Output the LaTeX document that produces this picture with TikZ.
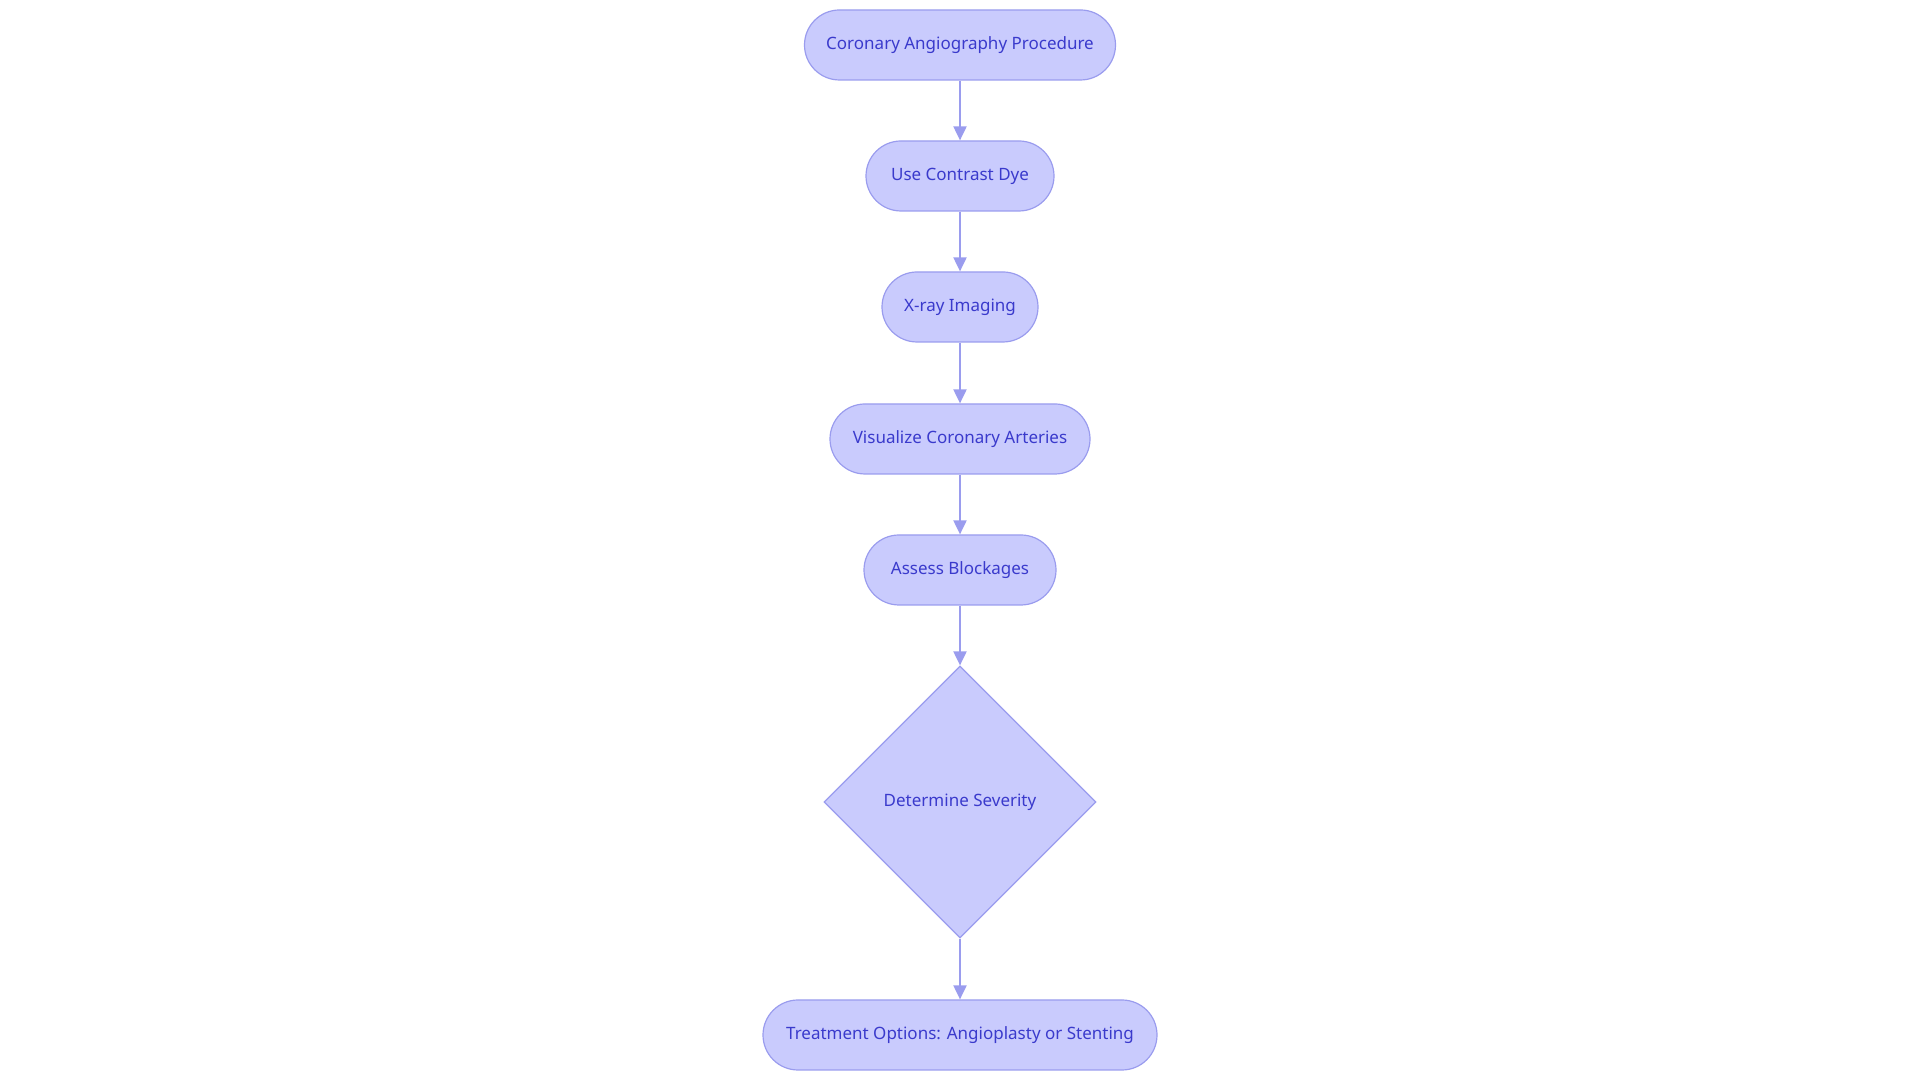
\documentclass[tikz,border=0pt]{standalone}
\usepackage{fontspec}
\setmainfont{Noto Sans}
\usetikzlibrary{shapes.geometric,arrows.meta}
\definecolor{nfill}{HTML}{C9CBFD}
\definecolor{nline}{HTML}{9A9CEE}
\definecolor{ntext}{HTML}{3A3ACC}
\tikzset{
 pill/.style={rounded corners=35pt, draw=nline, line width=1.2pt, fill=nfill, text=ntext, minimum height=70pt, font=\fontsize{17}{20}\selectfont, inner sep=0pt},
 dia/.style={diamond, draw=nline, line width=1.2pt, fill=nfill, text=ntext, minimum width=272pt, minimum height=272pt, aspect=1, inner sep=0pt, font=\fontsize{17}{20}\selectfont},
 conn/.style={draw=nline, line width=2pt, -{Triangle[length=14pt,width=13pt]}}
}
\begin{document}
\begin{tikzpicture}[x=1pt,y=1pt]
\useasboundingbox (0,0) rectangle (1920,1083);
\node[pill, minimum width=311pt] (a) at (960,1038) {Coronary Angiography Procedure};
\node[pill, minimum width=188pt] (b) at (960,907) {Use Contrast Dye};
\node[pill, minimum width=156pt] (c) at (960,776) {X-ray Imaging};
\node[pill, minimum width=260pt] (d) at (960,644) {Visualize Coronary Arteries};
\node[pill, minimum width=192pt] (e) at (960,513) {Assess Blockages};
\node[dia] (f) at (960,281) {Determine Severity};
\node[pill, minimum width=394pt] (g) at (960,48) {Treatment Options: Angioplasty or Stenting};
\draw[conn] (a) -- (b);
\draw[conn] (b) -- (c);
\draw[conn] (c) -- (d);
\draw[conn] (d) -- (e);
\draw[conn] (e) -- (f.north);
\draw[conn] (f.south) -- (g);
\end{tikzpicture}
\end{document}
